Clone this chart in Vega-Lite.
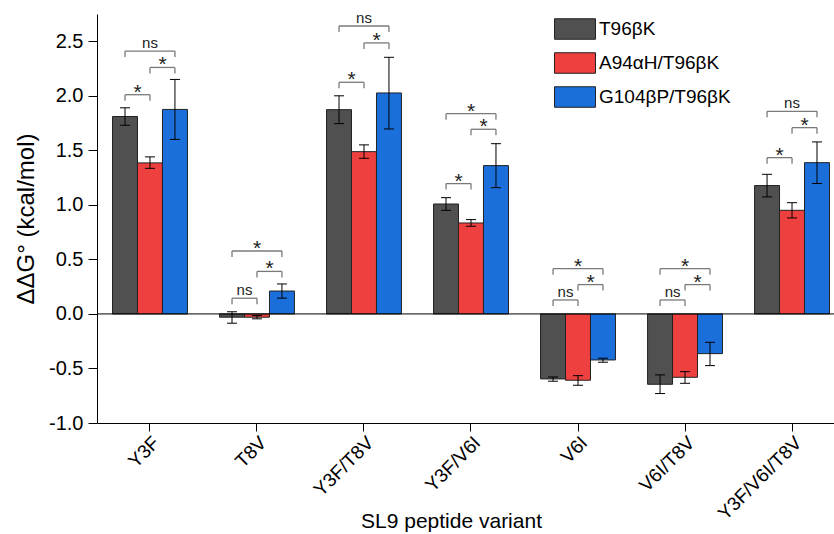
{
  "$schema": "https://vega.github.io/schema/vega-lite/v6.json",
  "width": 737,
  "height": 409,
  "autosize": {"type": "none"},
  "padding": {"left": 97, "top": 14, "right": 0, "bottom": 111},
  "background": "white",
  "config": {
    "font": "Liberation Sans",
    "view": {"stroke": null},
    "axis": {"domainColor": "#000", "tickColor": "#000", "labelColor": "#000", "titleColor": "#000", "titleFontWeight": "normal", "grid": false, "labelFont": "Liberation Sans", "titleFont": "Liberation Sans"}
  },
  "datasets": {
    "bars": [
      {"cat": "Y3F", "s": "T96βK", "v": 1.81, "lo": 1.73, "hi": 1.89},
      {"cat": "Y3F", "s": "A94αH/T96βK", "v": 1.385, "lo": 1.335, "hi": 1.44},
      {"cat": "Y3F", "s": "G104βP/T96βK", "v": 1.875, "lo": 1.6, "hi": 2.15},
      {"cat": "T8V", "s": "T96βK", "v": -0.03, "lo": -0.085, "hi": 0.02},
      {"cat": "T8V", "s": "A94αH/T96βK", "v": -0.03, "lo": -0.045, "hi": -0.015},
      {"cat": "T8V", "s": "G104βP/T96βK", "v": 0.21, "lo": 0.145, "hi": 0.275},
      {"cat": "Y3F/T8V", "s": "T96βK", "v": 1.873, "lo": 1.745, "hi": 2.0},
      {"cat": "Y3F/T8V", "s": "A94αH/T96βK", "v": 1.488, "lo": 1.427, "hi": 1.55},
      {"cat": "Y3F/T8V", "s": "G104βP/T96βK", "v": 2.026, "lo": 1.696, "hi": 2.353},
      {"cat": "Y3F/V6I", "s": "T96βK", "v": 1.008, "lo": 0.95, "hi": 1.066},
      {"cat": "Y3F/V6I", "s": "A94αH/T96βK", "v": 0.834, "lo": 0.804, "hi": 0.865},
      {"cat": "Y3F/V6I", "s": "G104βP/T96βK", "v": 1.36, "lo": 1.158, "hi": 1.561},
      {"cat": "V6I", "s": "T96βK", "v": -0.596, "lo": -0.617, "hi": -0.578},
      {"cat": "V6I", "s": "A94αH/T96βK", "v": -0.608, "lo": -0.654, "hi": -0.566},
      {"cat": "V6I", "s": "G104βP/T96βK", "v": -0.422, "lo": -0.443, "hi": -0.406},
      {"cat": "V6I/T8V", "s": "T96βK", "v": -0.645, "lo": -0.73, "hi": -0.559},
      {"cat": "V6I/T8V", "s": "A94αH/T96βK", "v": -0.581, "lo": -0.636, "hi": -0.529},
      {"cat": "V6I/T8V", "s": "G104βP/T96βK", "v": -0.364, "lo": -0.474, "hi": -0.26},
      {"cat": "Y3F/V6I/T8V", "s": "T96βK", "v": 1.177, "lo": 1.073, "hi": 1.28},
      {"cat": "Y3F/V6I/T8V", "s": "A94αH/T96βK", "v": 0.95, "lo": 0.88, "hi": 1.02},
      {"cat": "Y3F/V6I/T8V", "s": "G104βP/T96βK", "v": 1.387, "lo": 1.196, "hi": 1.577}
    ],
    "ends": [
      {"id": "Y3F-TA", "cat": "Y3F", "s": "T96βK", "y": 2.01, "leg": 1.955},
      {"id": "Y3F-TA", "cat": "Y3F", "s": "A94αH/T96βK", "y": 2.01, "leg": 1.955},
      {"id": "Y3F-AG", "cat": "Y3F", "s": "A94αH/T96βK", "y": 2.26, "leg": 2.205},
      {"id": "Y3F-AG", "cat": "Y3F", "s": "G104βP/T96βK", "y": 2.26, "leg": 2.205},
      {"id": "Y3F-TG", "cat": "Y3F", "s": "T96βK", "y": 2.41, "leg": 2.355},
      {"id": "Y3F-TG", "cat": "Y3F", "s": "G104βP/T96βK", "y": 2.41, "leg": 2.355},
      {"id": "T8V-TA", "cat": "T8V", "s": "T96βK", "y": 0.144, "leg": 0.089},
      {"id": "T8V-TA", "cat": "T8V", "s": "A94αH/T96βK", "y": 0.144, "leg": 0.089},
      {"id": "T8V-AG", "cat": "T8V", "s": "A94αH/T96βK", "y": 0.39, "leg": 0.335},
      {"id": "T8V-AG", "cat": "T8V", "s": "G104βP/T96βK", "y": 0.39, "leg": 0.335},
      {"id": "T8V-TG", "cat": "T8V", "s": "T96βK", "y": 0.577, "leg": 0.522},
      {"id": "T8V-TG", "cat": "T8V", "s": "G104βP/T96βK", "y": 0.577, "leg": 0.522},
      {"id": "Y3F/T8V-TA", "cat": "Y3F/T8V", "s": "T96βK", "y": 2.124, "leg": 2.069},
      {"id": "Y3F/T8V-TA", "cat": "Y3F/T8V", "s": "A94αH/T96βK", "y": 2.124, "leg": 2.069},
      {"id": "Y3F/T8V-AG", "cat": "Y3F/T8V", "s": "A94αH/T96βK", "y": 2.485, "leg": 2.43},
      {"id": "Y3F/T8V-AG", "cat": "Y3F/T8V", "s": "G104βP/T96βK", "y": 2.485, "leg": 2.43},
      {"id": "Y3F/T8V-TG", "cat": "Y3F/T8V", "s": "T96βK", "y": 2.64, "leg": 2.585},
      {"id": "Y3F/T8V-TG", "cat": "Y3F/T8V", "s": "G104βP/T96βK", "y": 2.64, "leg": 2.585},
      {"id": "Y3F/V6I-TA", "cat": "Y3F/V6I", "s": "T96βK", "y": 1.195, "leg": 1.14},
      {"id": "Y3F/V6I-TA", "cat": "Y3F/V6I", "s": "A94αH/T96βK", "y": 1.195, "leg": 1.14},
      {"id": "Y3F/V6I-AG", "cat": "Y3F/V6I", "s": "A94αH/T96βK", "y": 1.693, "leg": 1.638},
      {"id": "Y3F/V6I-AG", "cat": "Y3F/V6I", "s": "G104βP/T96βK", "y": 1.693, "leg": 1.638},
      {"id": "Y3F/V6I-TG", "cat": "Y3F/V6I", "s": "T96βK", "y": 1.836, "leg": 1.781},
      {"id": "Y3F/V6I-TG", "cat": "Y3F/V6I", "s": "G104βP/T96βK", "y": 1.836, "leg": 1.781},
      {"id": "V6I-TA", "cat": "V6I", "s": "T96βK", "y": 0.128, "leg": 0.073},
      {"id": "V6I-TA", "cat": "V6I", "s": "A94αH/T96βK", "y": 0.128, "leg": 0.073},
      {"id": "V6I-AG", "cat": "V6I", "s": "A94αH/T96βK", "y": 0.269, "leg": 0.214},
      {"id": "V6I-AG", "cat": "V6I", "s": "G104βP/T96βK", "y": 0.269, "leg": 0.214},
      {"id": "V6I-TG", "cat": "V6I", "s": "T96βK", "y": 0.415, "leg": 0.36},
      {"id": "V6I-TG", "cat": "V6I", "s": "G104βP/T96βK", "y": 0.415, "leg": 0.36},
      {"id": "V6I/T8V-TA", "cat": "V6I/T8V", "s": "T96βK", "y": 0.128, "leg": 0.073},
      {"id": "V6I/T8V-TA", "cat": "V6I/T8V", "s": "A94αH/T96βK", "y": 0.128, "leg": 0.073},
      {"id": "V6I/T8V-AG", "cat": "V6I/T8V", "s": "A94αH/T96βK", "y": 0.269, "leg": 0.214},
      {"id": "V6I/T8V-AG", "cat": "V6I/T8V", "s": "G104βP/T96βK", "y": 0.269, "leg": 0.214},
      {"id": "V6I/T8V-TG", "cat": "V6I/T8V", "s": "T96βK", "y": 0.415, "leg": 0.36},
      {"id": "V6I/T8V-TG", "cat": "V6I/T8V", "s": "G104βP/T96βK", "y": 0.415, "leg": 0.36},
      {"id": "Y3F/V6I/T8V-TA", "cat": "Y3F/V6I/T8V", "s": "T96βK", "y": 1.433, "leg": 1.378},
      {"id": "Y3F/V6I/T8V-TA", "cat": "Y3F/V6I/T8V", "s": "A94αH/T96βK", "y": 1.433, "leg": 1.378},
      {"id": "Y3F/V6I/T8V-AG", "cat": "Y3F/V6I/T8V", "s": "A94αH/T96βK", "y": 1.708, "leg": 1.653},
      {"id": "Y3F/V6I/T8V-AG", "cat": "Y3F/V6I/T8V", "s": "G104βP/T96βK", "y": 1.708, "leg": 1.653},
      {"id": "Y3F/V6I/T8V-TG", "cat": "Y3F/V6I/T8V", "s": "T96βK", "y": 1.858, "leg": 1.803},
      {"id": "Y3F/V6I/T8V-TG", "cat": "Y3F/V6I/T8V", "s": "G104βP/T96βK", "y": 1.858, "leg": 1.803}
    ],
    "labels": [
      {"cat": "Y3F", "s": "T96βK", "y": 2.01, "label": "*", "kind": "adj"},
      {"cat": "Y3F", "s": "A94αH/T96βK", "y": 2.26, "label": "*", "kind": "adj"},
      {"cat": "Y3F", "s": "A94αH/T96βK", "y": 2.41, "label": "ns", "kind": "wide"},
      {"cat": "T8V", "s": "T96βK", "y": 0.144, "label": "ns", "kind": "adj"},
      {"cat": "T8V", "s": "A94αH/T96βK", "y": 0.39, "label": "*", "kind": "adj"},
      {"cat": "T8V", "s": "A94αH/T96βK", "y": 0.577, "label": "*", "kind": "wide"},
      {"cat": "Y3F/T8V", "s": "T96βK", "y": 2.124, "label": "*", "kind": "adj"},
      {"cat": "Y3F/T8V", "s": "A94αH/T96βK", "y": 2.485, "label": "*", "kind": "adj"},
      {"cat": "Y3F/T8V", "s": "A94αH/T96βK", "y": 2.64, "label": "ns", "kind": "wide"},
      {"cat": "Y3F/V6I", "s": "T96βK", "y": 1.195, "label": "*", "kind": "adj"},
      {"cat": "Y3F/V6I", "s": "A94αH/T96βK", "y": 1.693, "label": "*", "kind": "adj"},
      {"cat": "Y3F/V6I", "s": "A94αH/T96βK", "y": 1.836, "label": "*", "kind": "wide"},
      {"cat": "V6I", "s": "T96βK", "y": 0.128, "label": "ns", "kind": "adj"},
      {"cat": "V6I", "s": "A94αH/T96βK", "y": 0.269, "label": "*", "kind": "adj"},
      {"cat": "V6I", "s": "A94αH/T96βK", "y": 0.415, "label": "*", "kind": "wide"},
      {"cat": "V6I/T8V", "s": "T96βK", "y": 0.128, "label": "ns", "kind": "adj"},
      {"cat": "V6I/T8V", "s": "A94αH/T96βK", "y": 0.269, "label": "*", "kind": "adj"},
      {"cat": "V6I/T8V", "s": "A94αH/T96βK", "y": 0.415, "label": "*", "kind": "wide"},
      {"cat": "Y3F/V6I/T8V", "s": "T96βK", "y": 1.433, "label": "*", "kind": "adj"},
      {"cat": "Y3F/V6I/T8V", "s": "A94αH/T96βK", "y": 1.708, "label": "*", "kind": "adj"},
      {"cat": "Y3F/V6I/T8V", "s": "A94αH/T96βK", "y": 1.858, "label": "ns", "kind": "wide"}
    ]
  },
  "layer": [
    {
      "data": {"name": "bars"},
      "mark": {"type": "bar", "stroke": "#222", "strokeWidth": 1},
      "encoding": {
        "x": {
          "field": "cat", "type": "nominal",
          "sort": ["Y3F", "T8V", "Y3F/T8V", "Y3F/V6I", "V6I", "V6I/T8V", "Y3F/V6I/T8V"],
          "scale": {"range": [0, 748], "paddingInner": 0.3, "paddingOuter": 0.145},
          "axis": {"title": "SL9 peptide variant", "titleFontSize": 21, "titleX": 354, "titleY": 104, "titleBaseline": "alphabetic", "titleAnchor": "start", "titleAlign": "center", "labelAngle": -45, "labelFontSize": 19, "labelBaseline": "top", "labelAlign": "right", "labelPadding": 2, "tickSize": 8, "tickWidth": 1, "domainWidth": 1}
        },
        "xOffset": {"field": "s", "type": "nominal", "sort": ["T96βK", "A94αH/T96βK", "G104βP/T96βK"], "scale": {"paddingInner": 0, "paddingOuter": 0}},
        "y": {
          "field": "v", "type": "quantitative",
          "scale": {"domain": [-1, 2.75], "nice": false, "zero": false},
          "axis": {
            "title": "ΔΔG° (kcal/mol)", "titleFontSize": 24, "titlePadding": 10,
            "values": [-1, -0.75, -0.5, -0.25, 0, 0.25, 0.5, 0.75, 1, 1.25, 1.5, 1.75, 2, 2.25, 2.5, 2.75],
            "labelExpr": "abs(datum.value*2 - round(datum.value*2)) < 0.000001 ? replace(format(datum.value, '.1f'), '−', '-') : ''",
            "labelFontSize": 20, "labelPadding": 5, "tickWidth": 1, "domainWidth": 1,
            "tickSize": {"condition": {"test": "abs(datum.value*2 - round(datum.value*2)) < 0.000001", "value": 9}, "value": 5}
          }
        },
        "color": {
          "field": "s", "type": "nominal",
          "scale": {"domain": ["T96βK", "A94αH/T96βK", "G104βP/T96βK"], "range": ["#505050", "#EF4040", "#1A6FDB"]},
          "legend": {"orient": "none", "legendX": 457, "legendY": -6, "title": null, "symbolType": "M-1,-0.5H1V0.5H-1Z", "symbolSize": 1681, "symbolStrokeColor": "#222", "symbolStrokeWidth": 1, "symbolOpacity": 1, "labelFontSize": 19, "labelFont": "Liberation Sans", "labelColor": "#000", "labelOffset": 3, "rowPadding": -1}
        }
      }
    },
    {
      "data": {"name": "bars"},
      "mark": {"type": "rule", "color": "#000", "strokeWidth": 1},
      "encoding": {
        "x": {"field": "cat", "type": "nominal", "sort": ["Y3F", "T8V", "Y3F/T8V", "Y3F/V6I", "V6I", "V6I/T8V", "Y3F/V6I/T8V"]},
        "xOffset": {"field": "s", "type": "nominal", "sort": ["T96βK", "A94αH/T96βK", "G104βP/T96βK"]},
        "y": {"field": "lo", "type": "quantitative"},
        "y2": {"field": "hi"}
      }
    },
    {
      "data": {"name": "bars"},
      "mark": {"type": "point", "shape": "M-1,0H1", "size": 100, "filled": false, "stroke": "#000", "strokeWidth": 1, "opacity": 1},
      "encoding": {
        "x": {"field": "cat", "type": "nominal", "sort": ["Y3F", "T8V", "Y3F/T8V", "Y3F/V6I", "V6I", "V6I/T8V", "Y3F/V6I/T8V"]},
        "xOffset": {"field": "s", "type": "nominal", "sort": ["T96βK", "A94αH/T96βK", "G104βP/T96βK"]},
        "y": {"field": "lo", "type": "quantitative"}
      }
    },
    {
      "data": {"name": "bars"},
      "mark": {"type": "point", "shape": "M-1,0H1", "size": 100, "filled": false, "stroke": "#000", "strokeWidth": 1, "opacity": 1},
      "encoding": {
        "x": {"field": "cat", "type": "nominal", "sort": ["Y3F", "T8V", "Y3F/T8V", "Y3F/V6I", "V6I", "V6I/T8V", "Y3F/V6I/T8V"]},
        "xOffset": {"field": "s", "type": "nominal", "sort": ["T96βK", "A94αH/T96βK", "G104βP/T96βK"]},
        "y": {"field": "hi", "type": "quantitative"}
      }
    },
    {
      "data": {"values": [{"zero": 0}]},
      "mark": {"type": "rule", "color": "#000", "strokeWidth": 1},
      "encoding": {"y": {"field": "zero", "type": "quantitative"}}
    },
    {
      "data": {"name": "ends"},
      "mark": {"type": "line", "color": "#7a7a7a", "strokeWidth": 1.3},
      "encoding": {
        "x": {"field": "cat", "type": "nominal", "sort": ["Y3F", "T8V", "Y3F/T8V", "Y3F/V6I", "V6I", "V6I/T8V", "Y3F/V6I/T8V"]},
        "xOffset": {"field": "s", "type": "nominal", "sort": ["T96βK", "A94αH/T96βK", "G104βP/T96βK"]},
        "y": {"field": "y", "type": "quantitative"},
        "detail": {"field": "id"}
      }
    },
    {
      "data": {"name": "ends"},
      "mark": {"type": "rule", "color": "#7a7a7a", "strokeWidth": 1.3},
      "encoding": {
        "x": {"field": "cat", "type": "nominal", "sort": ["Y3F", "T8V", "Y3F/T8V", "Y3F/V6I", "V6I", "V6I/T8V", "Y3F/V6I/T8V"]},
        "xOffset": {"field": "s", "type": "nominal", "sort": ["T96βK", "A94αH/T96βK", "G104βP/T96βK"]},
        "y": {"field": "y", "type": "quantitative"},
        "y2": {"field": "leg"}
      }
    },
    {
      "data": {"name": "labels"},
      "transform": [{"filter": "datum.kind == 'adj' && datum.label == '*'"}],
      "mark": {"type": "text", "fontSize": 21, "color": "#222", "baseline": "alphabetic", "dx": 12.5, "dy": 4},
      "encoding": {
        "x": {"field": "cat", "type": "nominal", "sort": ["Y3F", "T8V", "Y3F/T8V", "Y3F/V6I", "V6I", "V6I/T8V", "Y3F/V6I/T8V"]},
        "xOffset": {"field": "s", "type": "nominal", "sort": ["T96βK", "A94αH/T96βK", "G104βP/T96βK"]},
        "y": {"field": "y", "type": "quantitative"},
        "text": {"field": "label"}
      }
    },
    {
      "data": {"name": "labels"},
      "transform": [{"filter": "datum.kind == 'wide' && datum.label == '*'"}],
      "mark": {"type": "text", "fontSize": 21, "color": "#222", "baseline": "alphabetic", "dy": 4},
      "encoding": {
        "x": {"field": "cat", "type": "nominal", "sort": ["Y3F", "T8V", "Y3F/T8V", "Y3F/V6I", "V6I", "V6I/T8V", "Y3F/V6I/T8V"]},
        "xOffset": {"field": "s", "type": "nominal", "sort": ["T96βK", "A94αH/T96βK", "G104βP/T96βK"]},
        "y": {"field": "y", "type": "quantitative"},
        "text": {"field": "label"}
      }
    },
    {
      "data": {"name": "labels"},
      "transform": [{"filter": "datum.kind == 'adj' && datum.label == 'ns'"}],
      "mark": {"type": "text", "fontSize": 15, "color": "#222", "baseline": "alphabetic", "dx": 12.5, "dy": -3},
      "encoding": {
        "x": {"field": "cat", "type": "nominal", "sort": ["Y3F", "T8V", "Y3F/T8V", "Y3F/V6I", "V6I", "V6I/T8V", "Y3F/V6I/T8V"]},
        "xOffset": {"field": "s", "type": "nominal", "sort": ["T96βK", "A94αH/T96βK", "G104βP/T96βK"]},
        "y": {"field": "y", "type": "quantitative"},
        "text": {"field": "label"}
      }
    },
    {
      "data": {"name": "labels"},
      "transform": [{"filter": "datum.kind == 'wide' && datum.label == 'ns'"}],
      "mark": {"type": "text", "fontSize": 15, "color": "#222", "baseline": "alphabetic", "dy": -3},
      "encoding": {
        "x": {"field": "cat", "type": "nominal", "sort": ["Y3F", "T8V", "Y3F/T8V", "Y3F/V6I", "V6I", "V6I/T8V", "Y3F/V6I/T8V"]},
        "xOffset": {"field": "s", "type": "nominal", "sort": ["T96βK", "A94αH/T96βK", "G104βP/T96βK"]},
        "y": {"field": "y", "type": "quantitative"},
        "text": {"field": "label"}
      }
    }
  ]
}
